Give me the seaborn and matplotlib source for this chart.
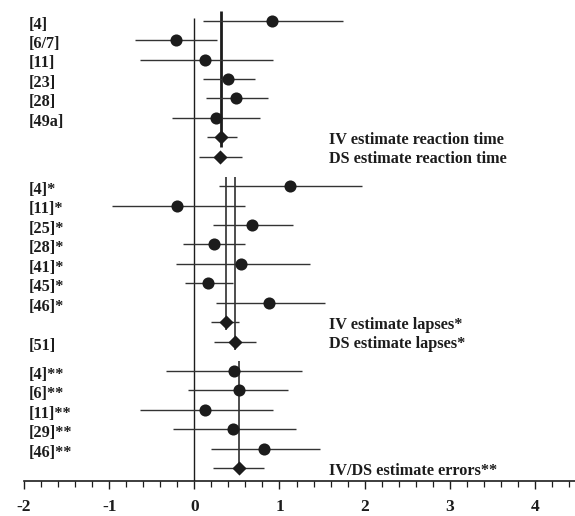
import numpy as np
import pandas as pd
import matplotlib
matplotlib.use("Agg")
import matplotlib.pyplot as plt
from matplotlib.ticker import FixedLocator, FixedFormatter
import seaborn as sns

# Individual studies: label, point estimate, lower and upper CI bound, row
study_labels = ["[4]", "[6/7]", "[11]", "[23]", "[28]", "[49a]",
                "[4]*", "[11]*", "[25]*", "[28]*", "[41]*", "[45]*", "[46]*",
                "[4]**", "[6]**", "[11]**", "[29]**", "[46]**"]
study_est = [0.91, -0.22, 0.12, 0.39, 0.49, 0.25,
             1.12, -0.20, 0.68, 0.23, 0.55, 0.16, 0.88,
             0.47, 0.53, 0.13, 0.46, 0.815]
study_lo = [0.10, -0.70, -0.64, 0.10, 0.14, -0.26,
            0.29, -0.97, 0.22, -0.13, -0.22, -0.11, 0.26,
            -0.33, -0.07, -0.64, -0.25, 0.19]
study_hi = [1.74, 0.27, 0.92, 0.71, 0.86, 0.77,
            1.97, 0.60, 1.155, 0.60, 1.36, 0.45, 1.54,
            1.27, 1.10, 0.92, 1.19, 1.47]
study_row = [0, 1, 2, 3, 4, 5,
             8.5, 9.5, 10.5, 11.5, 12.5, 13.5, 14.5,
             18, 19, 20, 21, 22]

# Pooled estimates (diamonds)
pooled_labels = ["IV estimate reaction time", "DS estimate reaction time",
                 "IV estimate lapses*", "DS estimate lapses*",
                 "IV/DS estimate errors**"]
pooled_est = [0.31, 0.30, 0.375, 0.48, 0.52]
pooled_lo = [0.15, 0.06, 0.19, 0.235, 0.215]
pooled_hi = [0.50, 0.56, 0.52, 0.73, 0.815]
pooled_row = [6, 7, 15.5, 16.5, 23]
pooled_side_label = ["", "", "", "[51]", ""]

# Reference lines through pooled estimates: estimate index, top row, bottom row, width
pooled_line_idx = [0, 2, 3, 4]
pooled_line_top = [-0.5, 8.05, 8.05, 17.5]
pooled_line_bottom = [6.5, 15.9, 16.9, 23.25]
pooled_line_width = [2.0, 1.1, 1.1, 1.1]

tick_values = [-2, -1, 0, 1, 2, 3, 4]
tick_labels = ["-2", "-1", "0", "1", "2", "3", "4"]

studies = pd.DataFrame({"label": study_labels, "est": study_est,
                        "lo": study_lo, "hi": study_hi, "row": study_row})
pooled = pd.DataFrame({"label": pooled_labels, "est": pooled_est,
                       "lo": pooled_lo, "hi": pooled_hi, "row": pooled_row})

sns.set_theme(style="white")
plt.rcParams["font.family"] = ["Liberation Serif", "DejaVu Serif"]

fig = plt.figure(figsize=(5.75, 5.16), dpi=100)
ax = fig.add_axes([24 / 575, 35.5 / 516, 551 / 575, 480.5 / 516])

ink = "#1c1c1c"
line_col = "#333333"

# zero line
ax.vlines(0, -0.14, 23.63, color=ink, lw=1.0, zorder=1)

# pooled reference lines
for i, top, bot, w in zip(pooled_line_idx, pooled_line_top,
                          pooled_line_bottom, pooled_line_width):
    ax.vlines(pooled_est[i], top, bot, color=ink, lw=w, zorder=1)

# confidence intervals
ax.hlines(studies["row"], studies["lo"], studies["hi"], color=line_col, lw=1.0, zorder=2)
ax.hlines(pooled["row"], pooled["lo"], pooled["hi"], color=line_col, lw=1.0, zorder=2)

# point estimates
sns.scatterplot(data=studies, x="est", y="row", marker="o", s=76,
                color=ink, edgecolor=ink, linewidth=0, ax=ax, zorder=3, legend=False)
sns.scatterplot(data=pooled, x="est", y="row", marker="D", s=52,
                color=ink, edgecolor=ink, linewidth=0, ax=ax, zorder=3, legend=False)

ax.set_xlim(-2, 4.47)
ax.set_ylim(23.63, -1.06)

# study labels on the left
for lab, r in zip(study_labels, study_row):
    ax.text(-1.94, r + 0.2, lab, ha="left", va="center", fontsize=11.7,
            fontweight="bold", color=ink)
for lab, r in zip(pooled_side_label, pooled_row):
    if lab:
        ax.text(-1.94, r + 0.2, lab, ha="left", va="center", fontsize=11.7,
                fontweight="bold", color=ink)

# pooled estimate labels on the right
for lab, r in zip(pooled_labels, pooled_row):
    ax.text(1.58, r + 0.12, lab, ha="left", va="center", fontsize=11.7,
            fontweight="bold", color=ink)

# axes styling
for side in ["top", "right", "left"]:
    ax.spines[side].set_visible(False)
ax.spines["bottom"].set_color(ink)
ax.spines["bottom"].set_linewidth(1.2)
ax.set_yticks([])
ax.xaxis.set_major_locator(FixedLocator(tick_values))
ax.xaxis.set_major_formatter(FixedFormatter(tick_labels))
ax.xaxis.set_minor_locator(FixedLocator(np.round(np.arange(-2, 4.5, 0.2), 1)))
ax.tick_params(axis="x", which="major", direction="out", length=6, width=1.0,
               color=ink, bottom=True, pad=7, labelsize=12.5)
ax.tick_params(axis="x", which="minor", direction="out", length=4, width=0.9,
               color=ink, bottom=True)
for t in ax.get_xticklabels():
    t.set_fontweight("bold")
    t.set_color(ink)
ax.set_xlabel("")
ax.set_ylabel("")
ax.patch.set_alpha(0)

fig.savefig("out.png", dpi=100)
